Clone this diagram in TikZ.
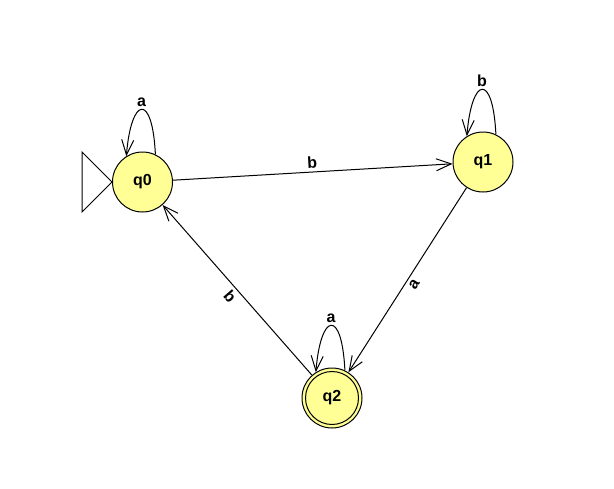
\documentclass[tikz,border=0pt]{standalone}
\usepackage{fontspec}
\setmainfont{Liberation Sans}
\usetikzlibrary{arrows.meta}
\definecolor{statefill}{RGB}{255,255,150}
\begin{document}
\begin{tikzpicture}[x=1pt,y=-1pt,
  labelfont/.style={font=\fontsize{16}{16}\selectfont\bfseries},
  state/.style={circle,draw,line width=1pt,fill=statefill,
    minimum size=60pt,inner sep=0pt,labelfont},
  edge/.style={line width=1pt,
    -{Straight Barb[length=15pt,width=12pt,line width=1pt]}},
  lbl/.style={labelfont,sloped,auto,inner sep=3pt},
  looplbl/.style={labelfont,above=1pt,inner sep=1pt}]
  % canvas
  \useasboundingbox[fill=white] (0,0) rectangle (614,488);

  % states
  \node[state] (q0) at (142.5,182) {q0};
  \node[state] (q1) at (483,162) {q1};
  \node[state] (q2) at (332,398) {q2};
  % accepting ring
  \draw[line width=1pt] (q2.center) circle[radius=26.5];

  % initial-state marker
  \draw[line width=1pt] (q0.west) -- ++(-30,-30) -- ++(0,60) -- cycle;

  % transitions
  \draw[edge] (q0) -- node[lbl] {b} (q1);
  \draw[edge] (q1) -- node[lbl,swap] {a} (q2);
  \draw[edge] (q2) -- node[lbl,swap] {b} (q0);

  % self loops
  \draw[edge] (q0.65) .. controls +(-3,-62) and +(5,-60) .. node[looplbl] {a} (q0.122);
  \draw[edge] (q1.65) .. controls +(-3,-62) and +(5,-60) .. node[looplbl] {b} (q1.122);
  \draw[edge] (q2.65) .. controls +(-3,-62) and +(5,-60) .. node[looplbl] {a} (q2.122);
\end{tikzpicture}
\end{document}
